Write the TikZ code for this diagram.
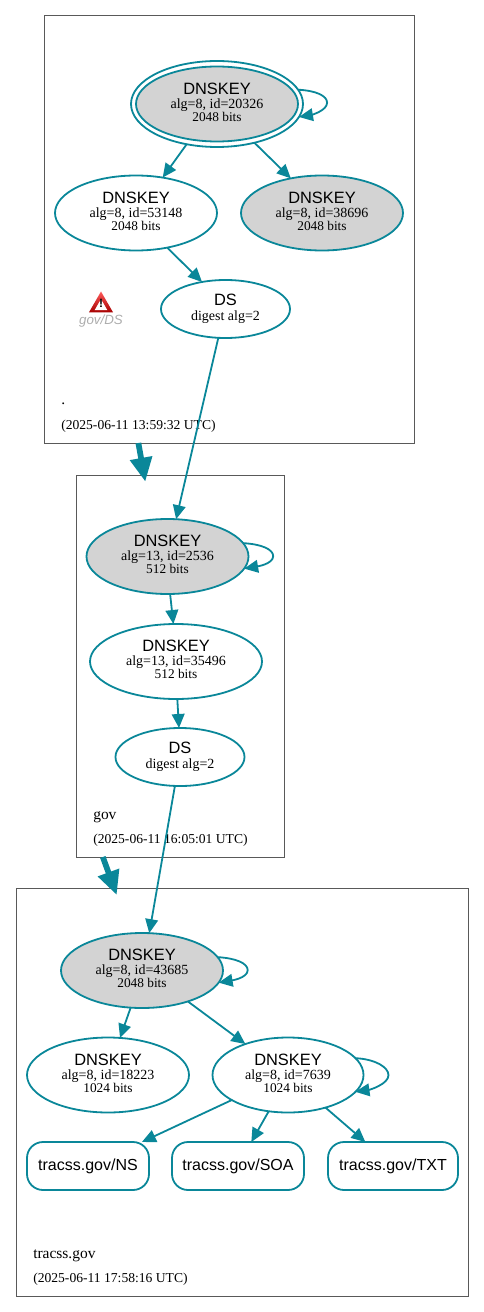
\documentclass[tikz,border=0pt]{standalone}
\usepackage{fontspec}
\setmainfont{Liberation Serif}
\setsansfont{Liberation Sans}
\usetikzlibrary{arrows.meta, shapes.geometric}

\definecolor{linkteal}{HTML}{0A8799}
\definecolor{keygray}{HTML}{D3D3D3}
\newcommand{\keytext}[2]{\sffamily\fontsize{12.3}{9.75}\selectfont DNSKEY\\[-1.25pt]\rmfamily\fontsize{10.5}{9.75}\selectfont #1\\[-2.25pt]#2\rule[-3pt]{0pt}{3pt}\par}
\newcommand{\dstext}{\sffamily\fontsize{12.3}{10.8}\selectfont DS\\[-0.75pt]\rmfamily\fontsize{10.5}{10.8}\selectfont digest alg=2\par}
\tikzset{
  zonebox/.style={draw=black!65, line width=0.75pt, inner sep=0pt, outer sep=0pt},
  zonetext/.style={anchor=west, inner sep=0pt, font=\fontsize{11.6}{12}\selectfont},
  timetext/.style={anchor=west, inner sep=0pt, font=\fontsize{10.2}{12}\selectfont},
  keynode/.style={ellipse, draw=linkteal, line width=1.35pt, inner sep=0pt, outer sep=0pt, align=center, minimum width=162*0.75pt, minimum height=75*0.75pt},
  rrnode/.style={rectangle, rounded corners=12pt, draw=linkteal, line width=1.35pt, inner sep=0pt, outer sep=0pt, minimum height=48*0.75pt, font=\sffamily\fontsize{12}{12}\selectfont},
  link/.style={draw=linkteal, line width=1.35pt, -{Triangle[length=10.5pt,width=9.5pt]}, fill=none},
  zonelink/.style={draw=linkteal, line width=4.3pt, -{Triangle[length=18pt,width=16pt]}},
  warnshape/.style={regular polygon, regular polygon sides=3, inner sep=0pt, outer sep=0pt}
}

\begin{document}
\begin{tikzpicture}[x=0.75pt, y=-0.75pt]
  \useasboundingbox (0,0) rectangle (484,1312);
  % zones
  \node[zonebox, minimum width=370*0.75pt, minimum height=427*0.75pt] (zoneroot) at (229,229.5) {};
  \node[zonebox, minimum width=208*0.75pt, minimum height=382*0.75pt] (zonegov) at (180,666) {};
  \node[zonebox, minimum width=452*0.75pt, minimum height=408*0.75pt] (zonetracss) at (242,1092) {};
  \node[zonetext] (nameroot) at (61,404) {.};
  \node[timetext] (timeroot) at (61,426) {(2025-06-11 13:59:32 UTC)};
  \node[zonetext] (namegov) at (93,817) {gov};
  \node[timetext] (timegov) at (93,840) {(2025-06-11 16:05:01 UTC)};
  \node[zonetext] (nametracss) at (33,1256) {tracss.gov};
  \node[timetext] (timetracss) at (33,1279) {(2025-06-11 17:58:16 UTC)};

  % root keys
  \node[keynode, minimum width=172*0.75pt, minimum height=86*0.75pt] (ksk20326ring) at (217,104) {};
  \node[keynode, fill=keygray] (ksk20326) at (217,104) {\keytext{alg=8, id=20326}{2048 bits}};
  \node[keynode] (key53148) at (136,213) {\keytext{alg=8, id=53148}{2048 bits}};
  \node[keynode, fill=keygray] (key38696) at (322,213) {\keytext{alg=8, id=38696}{2048 bits}};
  \node[keynode, minimum width=129*0.75pt, minimum height=58*0.75pt] (dsroot) at (225.5,309) {\dstext};
  % warning
  \node[warnshape, top color=red!65!white, bottom color=red!65!black, minimum size=21pt] (warnicon) at (101,305.5) {};
  \node[warnshape, fill=white, minimum size=11pt] (warninner) at (101,306.5) {};
  \node[font=\sffamily\bfseries\fontsize{9}{9}\selectfont, inner sep=0pt] (warnmark) at (101,303.5) {!};
  \node[font=\sffamily\itshape\fontsize{10}{10}\selectfont, text=black!32, inner sep=0pt] (warntext) at (101,321) {gov/DS};

  % gov keys
  \node[keynode, fill=keygray] (ksk2536) at (167.5,556.5) {\keytext{alg=13, id=2536}{512 bits}};
  \node[keynode, minimum width=172*0.75pt] (key35496) at (176,661.5) {\keytext{alg=13, id=35496}{512 bits}};
  \node[keynode, minimum width=129*0.75pt, minimum height=58*0.75pt] (dsgov) at (180,757) {\dstext};

  % tracss.gov keys
  \node[keynode, fill=keygray] (ksk43685) at (142,970.5) {\keytext{alg=8, id=43685}{2048 bits}};
  \node[keynode] (key18223) at (108,1075) {\keytext{alg=8, id=18223}{1024 bits}};
  \node[keynode, minimum width=151*0.75pt] (key7639) at (288,1075) {\keytext{alg=8, id=7639}{1024 bits}};
  \node[rrnode, minimum width=122*0.75pt] (rrns) at (88,1166) {tracss.gov/NS};
  \node[rrnode, minimum width=132*0.75pt] (rrsoa) at (238,1166) {tracss.gov/SOA};
  \node[rrnode, minimum width=130*0.75pt] (rrtxt) at (393,1166) {tracss.gov/TXT};

  % signing links
  \draw[link] (ksk20326ring.-127) -- (key53148.53);
  \draw[link] (ksk20326ring.-46) -- (key38696.132);
  \draw[link] (key53148.-48) -- (dsroot.131);
  \draw[link] (dsroot.-104) -- (ksk2536.77);
  \draw[link] (ksk2536.-86) -- (key35496.94);
  \draw[link] (key35496.-88) -- (dsgov.92);
  \draw[link] (dsgov.-100) -- (ksk43685.79);
  \draw[link] (ksk43685.-107.7) -- (key18223.72.5);
  \draw[link] (ksk43685.-34) -- (key7639.144);
  \draw[link] (key7639.-156) -- (rrns.24.8);
  \draw[link] (key7639.-118) -- (rrsoa.61.5);
  \draw[link] (key7639.-41) -- (rrtxt.139.4);
  % self loops
  \draw[link] (ksk20326ring.10) .. controls +(18,1) and +(0,-7) .. ++(29,13) .. controls +(0,8) and +(12,-2) .. (ksk20326ring.-9);
  \draw[link] (ksk2536.10) .. controls +(18,1) and +(0,-7) .. ++(30,13) .. controls +(0,8) and +(12,-2) .. (ksk2536.-9);
  \draw[link] (ksk43685.10) .. controls +(18,1) and +(0,-7) .. ++(30,13) .. controls +(0,8) and +(12,-2) .. (ksk43685.-9);
  \draw[link] (key7639.14) .. controls +(20,1) and +(0,-8) .. ++(33,17) .. controls +(0,9) and +(14,-2) .. (key7639.-14);

  % zone links
  \coordinate (goventry) at (145.3,481.7);
  \coordinate (tracssentry) at (116.7,895);
  \draw[zonelink] (zoneroot.-113.1) -- (goventry);
  \draw[zonelink] (zonegov.-112) -- (tracssentry);
\end{tikzpicture}
\end{document}
